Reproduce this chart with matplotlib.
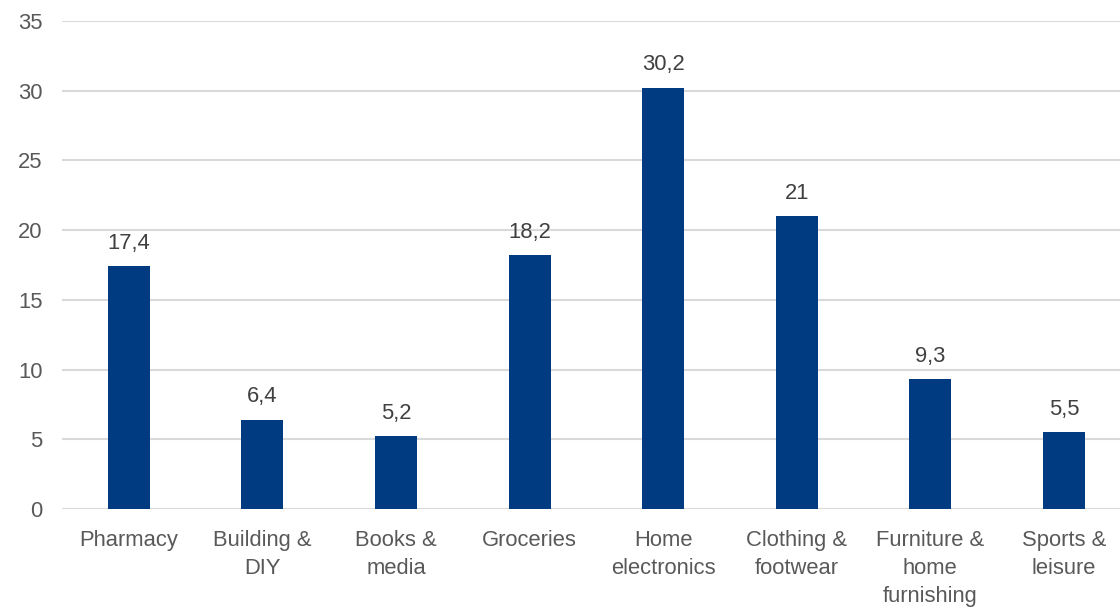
import matplotlib
matplotlib.use("Agg")
import matplotlib.pyplot as plt

# data
categories = ["Pharmacy", "Building &\nDIY", "Books &\nmedia", "Groceries",
              "Home\nelectronics", "Clothing &\nfootwear",
              "Furniture &\nhome\nfurnishing", "Sports &\nleisure"]
values = [17.4, 6.4, 5.2, 18.2, 30.2, 21, 9.3, 5.5]
yticks = [0, 5, 10, 15, 20, 25, 30, 35]

BAR = "#003A80"
TXT = "#595959"
GRID = "#D9D9D9"
FS = 15.8

plt.rcParams["font.family"] = ["Liberation Sans", "DejaVu Sans"]

fig = plt.figure(figsize=(11.2, 6.1), dpi=100)
ax = fig.add_axes([62 / 1120, 1 - 509 / 610, 1 - 62 / 1120, 488 / 610])

x = range(len(categories))
bars = ax.bar(x, values, width=0.315, color=BAR, zorder=3)

for xi, v in zip(x, values):
    label = f"{v:g}".replace(".", ",")
    ax.annotate(label, (xi, v), xytext=(0, 9), textcoords="offset points",
                ha="center", va="bottom", fontsize=FS, color="#404040")

ax.set_xlim(-0.5, 7.42)
ax.set_ylim(0, 35)
ax.set_yticks(yticks)
ax.set_yticklabels([str(t) for t in yticks], fontsize=FS, color=TXT)
ax.set_xticks(list(x))
ax.set_xticklabels(categories, fontsize=FS, color=TXT, linespacing=1.45)

ax.grid(axis="y", color=GRID, linewidth=1.5, zorder=0)
for s in ax.spines.values():
    s.set_visible(False)
ax.tick_params(axis="both", length=0)
ax.tick_params(axis="y", pad=14)
ax.tick_params(axis="x", pad=15)

fig.savefig("out.png", dpi=100)
